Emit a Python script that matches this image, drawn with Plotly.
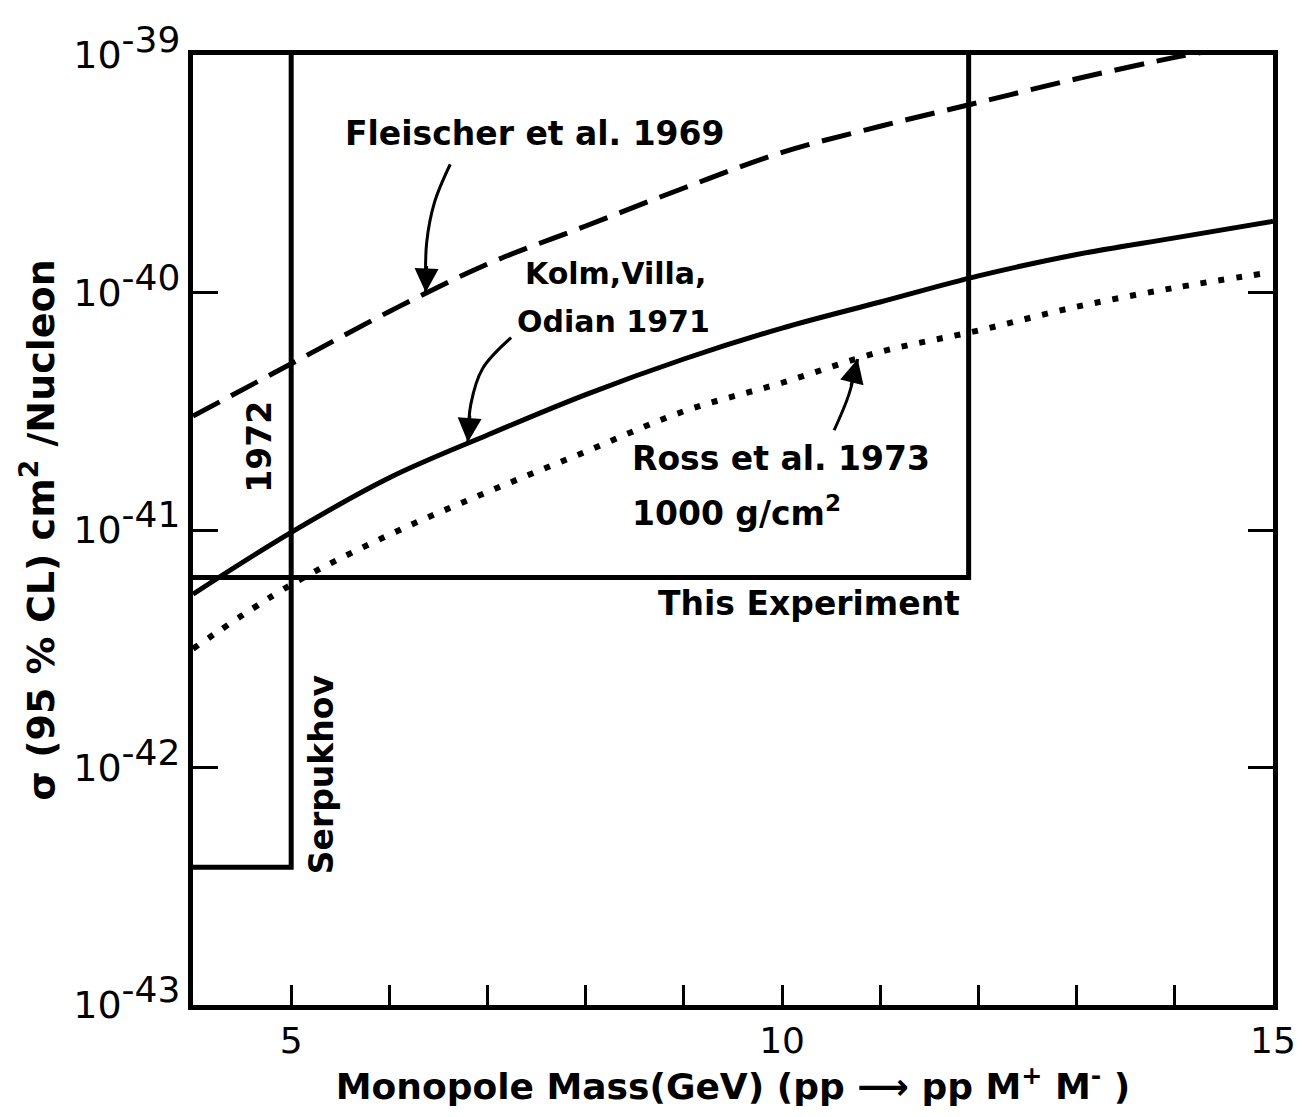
import plotly.graph_objects as go

# ---------------- data ----------------
# Monopole mass (GeV) and log10 of sigma (cm^2 / nucleon, 95% CL)
fleischer_mass = [4, 5, 6, 7, 8, 9, 10, 11, 12, 13, 14, 14.4]
fleischer_log = [-40.52, -40.30, -40.08, -39.88, -39.72, -39.56, -39.41,
                 -39.30, -39.20, -39.10, -39.01, -38.98]

kolm_mass = [4, 5, 6, 7, 8, 9, 10, 11, 12, 13, 14, 15]
kolm_log = [-41.27, -41.01, -40.78, -40.60, -40.43, -40.28, -40.15,
            -40.04, -39.93, -39.84, -39.77, -39.70]

ross_mass = [4, 5, 6, 7, 8, 9, 10, 11, 12, 13, 14, 14.9]
ross_log = [-41.50, -41.23, -41.02, -40.84, -40.67, -40.50, -40.38,
            -40.25, -40.16, -40.06, -39.98, -39.92]

# limit boxes: (mass, log10 sigma) corner paths
serpukhov_mass = [4, 5, 5]
serpukhov_log = [-42.42, -42.42, -39.0]
this_exp_mass = [4, 11.9, 11.9]
this_exp_log = [-41.2, -41.2, -39.0]

# curved arrow shafts (mass, log10 sigma), tip last
fl_arrow_mass = [6.62, 6.46, 6.38, 6.37]
fl_arrow_log = [-39.46, -39.62, -39.79, -40.00]
kv_arrow_mass = [7.24, 6.95, 6.83, 6.80]
kv_arrow_log = [-40.19, -40.32, -40.47, -40.63]
ro_arrow_mass = [10.53, 10.68, 10.77]
ro_arrow_log = [-40.58, -40.43, -40.28]

x_ticks = [5, 6, 7, 8, 9, 10, 11, 12, 13, 14, 15]
x_ticklabels = ["5", "", "", "", "", "10", "", "", "", "", "15"]
y_exponents = [-43, -42, -41, -40, -39]

FONT = "DejaVu Sans"
K = "black"


def pw(vals):
    return [10 ** v for v in vals]


fig = go.Figure()

fig.add_trace(go.Scatter(x=fleischer_mass, y=pw(fleischer_log), mode="lines",
                         line=dict(color=K, width=5, dash="30px,13px", shape="spline"),
                         name="Fleischer et al. 1969"))
fig.add_trace(go.Scatter(x=kolm_mass, y=pw(kolm_log), mode="lines",
                         line=dict(color=K, width=5, shape="spline"),
                         name="Kolm, Villa, Odian 1971"))
fig.add_trace(go.Scatter(x=ross_mass, y=pw(ross_log), mode="lines",
                         line=dict(color=K, width=6, dash="6px,12px", shape="spline"),
                         name="Ross et al. 1973"))
fig.add_trace(go.Scatter(x=serpukhov_mass, y=pw(serpukhov_log), mode="lines",
                         line=dict(color=K, width=5), name="Serpukhov 1972"))
fig.add_trace(go.Scatter(x=this_exp_mass, y=pw(this_exp_log), mode="lines",
                         line=dict(color=K, width=5), name="This Experiment"))

for am, al in [(fl_arrow_mass, fl_arrow_log), (kv_arrow_mass, kv_arrow_log),
               (ro_arrow_mass, ro_arrow_log)]:
    fig.add_trace(go.Scatter(x=am, y=pw(al), mode="lines",
                             line=dict(color=K, width=3, shape="spline"),
                             hoverinfo="skip", showlegend=False))

# arrowheads at the tips of the curved shafts
heads = [(fl_arrow_mass[-1], fl_arrow_log[-1], 1, -28),
         (kv_arrow_mass[-1], kv_arrow_log[-1], 2, -28),
         (ro_arrow_mass[-1], ro_arrow_log[-1], -7, 28)]
for hx, hy, hax, hay in heads:
    fig.add_annotation(x=hx, y=hy, text="", showarrow=True, ax=hax, ay=hay,
                       arrowhead=2, arrowsize=1.6, arrowwidth=3, arrowcolor=K)

tf = dict(family=FONT, size=33, color=K, weight="bold")
tf_small = dict(family=FONT, size=30, color=K, weight="bold")
labels = [
    ("Fleischer et al. 1969", 5.53, -39.33, tf),
    ("Kolm,Villa,", 7.36, -39.92, tf_small),
    ("Odian 1971", 7.28, -40.12, tf_small),
    ("Ross et al. 1973", 8.45, -40.70, tf),
    ("1000 g/cm<sup>2</sup>", 8.45, -40.92, tf),
    ("This Experiment", 8.72, -41.31, tf),
]
for txt, x, y, f in labels:
    fig.add_annotation(x=x, y=y, text=txt, showarrow=False, xanchor="left",
                       yanchor="middle", font=f)
fig.add_annotation(x=4.68, y=-40.65, text="1972", showarrow=False, textangle=-90,
                   font=tf)
fig.add_annotation(x=5.31, y=-42.03, text="Serpukhov", showarrow=False,
                   textangle=-90, font=tf)

fig.update_xaxes(range=[4, 15], tickvals=x_ticks, ticktext=x_ticklabels,
                 ticks="inside", ticklen=20, tickwidth=3, tickcolor=K,
                 showline=True, linewidth=5, linecolor=K, mirror=True,
                 showgrid=False, zeroline=False,
                 tickfont=dict(family=FONT, size=36, color=K),
                 title=dict(text="Monopole Mass(GeV) (pp ⟶ pp M<sup>+</sup> M<sup>-</sup> )",
                            font=dict(family=FONT, size=36, color=K, weight="bold"),
                            standoff=6))
fig.update_yaxes(type="log", range=[-43, -39],
                 tickvals=[10 ** e for e in y_exponents],
                 ticktext=["10<sup><span style='font-size:36px'>%d</span></sup>" % e
                           for e in y_exponents],
                 ticks="inside", ticklen=25, tickwidth=3, tickcolor=K,
                 showline=True, linewidth=5, linecolor=K, mirror="ticks",
                 showgrid=False, zeroline=False,
                 tickfont=dict(family=FONT, size=38, color=K),
                 title=dict(text="σ (95 % CL) cm<sup>2</sup> /Nucleon",
                            font=dict(family=FONT, size=38, color=K, weight="bold"),
                            standoff=8))

fig.update_layout(width=1302, height=1117, paper_bgcolor="white",
                  plot_bgcolor="white", showlegend=False,
                  margin=dict(l=185, r=37, t=47, b=120),
                  font=dict(family=FONT, color=K))

fig.write_html("out.html")
